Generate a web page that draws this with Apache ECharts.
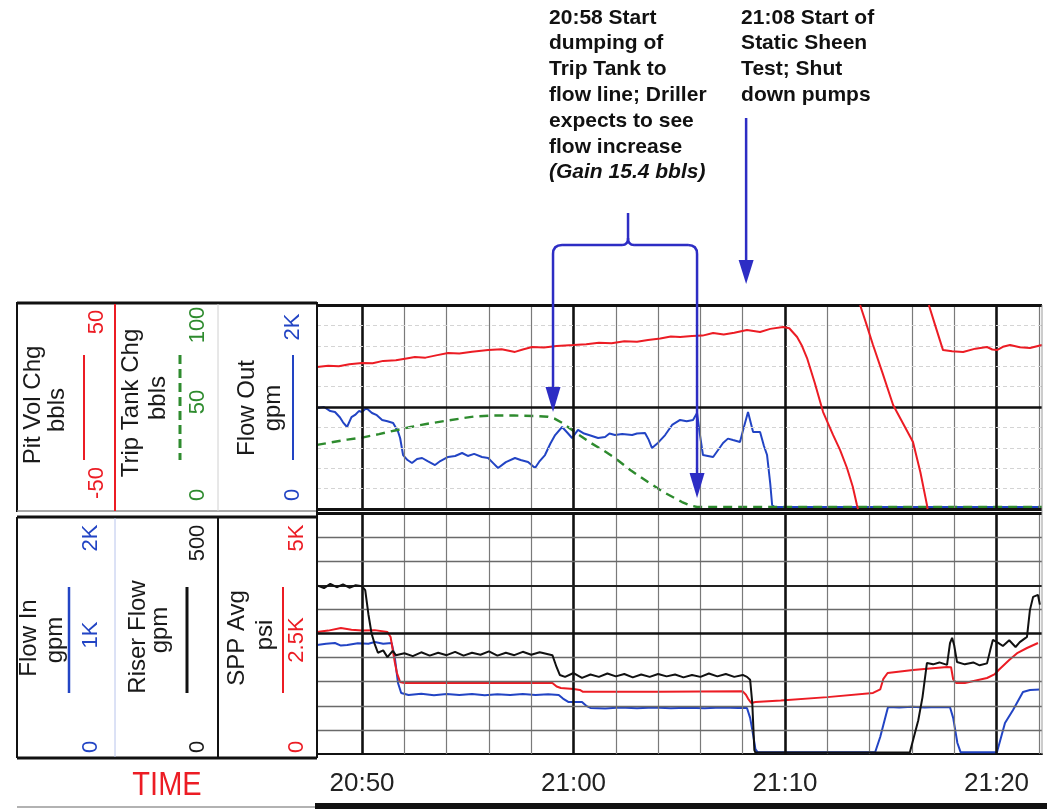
<!DOCTYPE html>
<html>
<head>
<meta charset="utf-8">
<script src="https://cdn.jsdelivr.net/npm/echarts@6.0.0/dist/echarts.min.js"></script>
<style>
html, body { margin: 0; padding: 0; background: #fff; }
#main { width: 1047px; height: 809px; }
</style>
</head>
<body>
<div id="main"></div>
<script>
// time is in minutes after 20:00
var X_MIN = 47.87, X_MAX = 82.15;
var timeTicks = [50, 60, 70, 80];

// top panel
var pitVolChg = [
  [47.87, 19.6], [48.4, 20.2], [48.9, 20.0], [49.4, 21.0], [50.0, 21.6], [50.5, 21.4], [51.0, 22.6],
  [51.6, 22.9], [52.1, 23.8], [52.5, 24.5], [53.0, 24.2], [53.5, 25.3], [54.07, 26.5], [54.6, 26.2],
  [55.2, 27.1], [55.96, 27.9], [56.6, 28.3], [57.23, 27.0], [57.6, 28.2], [58.04, 29.4], [58.6, 29.2],
  [59.2, 29.9], [60.0, 30.4], [60.6, 30.8], [61.2, 31.5], [61.8, 31.3], [62.4, 32.2], [63.0, 32.0],
  [63.52, 32.8], [64.1, 33.6], [64.6, 34.6], [65.04, 34.3], [65.6, 34.8], [66.1, 35.0], [66.6, 36.3],
  [67.1, 35.5], [67.6, 36.4], [68.2, 37.7], [68.82, 36.8], [69.3, 38.3], [69.91, 39.2], [70.2, 38.6],
  [70.57, 34.3], [70.8, 30.0], [71.04, 24.0], [71.4, 12.0], [71.8, -2.5], [72.27, -13.7], [72.6, -21.0],
  [72.93, -29.9], [73.2, -39], [73.4, -48], [73.45, -50], [73.5, null],
  [73.55, 50], [73.85, 40.5], [74.16, 30.4], [74.6, 17.0], [75.11, 1.0], [75.6, -8.5], [76.05, -17.2],
  [76.4, -32], [76.71, -48], [76.74, -50], [76.76, null],
  [76.8, 50], [77.1, 40], [77.47, 27.9], [77.9, 27.3], [78.42, 27.0], [79.0, 28.6], [79.55, 29.4],
  [79.8, 28.2], [80.02, 27.9], [80.3, 29.5], [80.64, 30.4], [81.1, 29.3], [81.58, 28.9], [82.15, 30.4]
];
var tripTankChg = [
  [47.87, 31.4], [48.5, 32.6], [49.3, 34.0], [50.0, 35.0], [50.8, 36.7], [51.56, 38.5], [52.3, 40.2],
  [53.1, 41.8], [54.07, 43.4], [54.8, 44.6], [55.34, 45.4], [56.2, 45.8], [57.2, 45.8], [58.2, 45.6],
  [58.79, 45.2], [59.1, 44.3], [59.46, 42.2], [60.07, 37.7], [60.8, 32.5], [61.4, 28.8], [61.96, 25.0],
  [62.7, 19.0], [63.52, 13.2], [64.3, 8.0], [65.13, 3.4], [65.5, 1.8], [65.84, 1.0], [82.15, 1.0]
];
var flowOut = [
  [47.87, 990], [48.2, 1000], [48.5, 960], [48.72, 951], [48.95, 900], [49.1, 850], [49.29, 804],
  [49.5, 900], [49.67, 922], [49.85, 960], [50.0, 951], [50.2, 990], [50.47, 941], [50.7, 920],
  [50.95, 873], [51.2, 860], [51.47, 843], [51.7, 760], [51.8, 696], [51.94, 529], [52.15, 480],
  [52.36, 451], [52.6, 490], [52.84, 500], [53.1, 470], [53.45, 431], [53.7, 470], [54.07, 510],
  [54.4, 520], [54.73, 549], [55.0, 520], [55.3, 540], [55.67, 510], [55.96, 500], [56.2, 450],
  [56.43, 402], [56.8, 460], [57.23, 500], [57.5, 480], [57.85, 461], [58.18, 402], [58.4, 470],
  [58.65, 529], [58.9, 640], [59.13, 725], [59.46, 804], [59.7, 750], [59.93, 696], [60.21, 775],
  [60.5, 740], [60.8, 720], [61.16, 696], [61.49, 706], [61.7, 740], [61.96, 725], [62.3, 735],
  [62.77, 725], [63.0, 740], [63.38, 745], [63.55, 680], [63.71, 598], [64.0, 650], [64.33, 725],
  [64.66, 824], [65.04, 873], [65.35, 860], [65.65, 873], [65.84, 941], [65.98, 725], [66.12, 529],
  [66.35, 520], [66.6, 510], [67.07, 647], [67.3, 690], [67.54, 676], [67.87, 657], [68.05, 800],
  [68.25, 951], [68.49, 755], [68.82, 755], [69.0, 620], [69.15, 529], [69.3, 250], [69.39, 39],
  [69.5, 20], [82.15, 20]
];

// bottom panel
var flowIn = [
  [47.87, 905], [48.3, 915], [48.72, 921], [49.0, 900], [49.3, 905], [49.8, 920], [50.3, 915],
  [50.6, 929], [51.0, 915], [51.4, 921], [51.55, 800], [51.7, 589], [51.85, 506], [52.2, 490],
  [52.8, 500], [53.4, 488], [54.0, 498], [54.6, 490], [55.2, 497], [55.8, 488], [56.4, 496],
  [57.0, 489], [57.6, 498], [58.2, 490], [58.8, 495], [59.3, 490], [59.5, 460], [59.75, 432],
  [60.4, 432], [60.6, 400], [60.8, 382], [61.5, 378], [62.2, 385], [63.0, 380], [63.8, 386],
  [64.6, 379], [65.4, 384], [66.2, 380], [67.0, 385], [67.8, 381], [68.2, 382], [68.35, 300],
  [68.5, 150], [68.6, 40], [68.7, 15], [74.26, 15], [74.5, 141], [74.87, 390], [75.4, 385],
  [76.0, 392], [76.6, 386], [77.2, 391], [77.8, 388], [77.95, 300], [78.15, 91], [78.3, 15],
  [80.02, 15], [80.4, 257], [80.78, 365], [81.25, 515], [81.58, 531], [82.05, 535]
];
var riserFlow = [
  [47.87, 350], [48.2, 344], [48.5, 353], [48.8, 346], [49.1, 352], [49.4, 345], [49.7, 350],
  [50.0, 348], [50.15, 340], [50.3, 290], [50.45, 250], [50.6, 228], [50.75, 210], [51.0, 215],
  [51.2, 201], [51.45, 214], [51.6, 205], [52.0, 209], [52.4, 203], [52.8, 211], [53.2, 204],
  [53.6, 210], [54.0, 205], [54.4, 212], [54.8, 204], [55.2, 210], [55.6, 206], [56.0, 213],
  [56.4, 204], [56.8, 210], [57.2, 205], [57.6, 212], [58.0, 206], [58.4, 211], [58.8, 207],
  [59.0, 205], [59.2, 180], [59.35, 164], [59.6, 160], [60.0, 168], [60.4, 158], [60.8, 165],
  [61.2, 160], [61.6, 167], [62.0, 161], [62.4, 166], [62.8, 159], [63.2, 165], [63.6, 160],
  [64.0, 166], [64.4, 161], [64.8, 165], [65.2, 159], [65.6, 164], [66.0, 160], [66.4, 167],
  [66.8, 161], [67.2, 166], [67.6, 160], [68.0, 164], [68.2, 160], [68.35, 154], [68.45, 106],
  [68.55, 8], [68.6, 3], [75.9, 3], [76.3, 70], [76.5, 118], [76.71, 189], [77.0, 186],
  [77.3, 190], [77.66, 185], [77.8, 230], [77.9, 241], [78.0, 225], [78.13, 191], [78.5, 186],
  [78.9, 190], [79.2, 184], [79.55, 188], [79.7, 215], [79.83, 237], [80.1, 230], [80.3, 224],
  [80.6, 236], [80.9, 222], [81.1, 232], [81.44, 243], [81.58, 299], [81.73, 326], [81.96, 330],
  [82.05, 310]
];
var sppAvg = [
  [47.87, 2531], [48.4, 2560], [49.0, 2614], [49.5, 2580], [50.0, 2560], [50.6, 2570], [51.2, 2531],
  [51.35, 2427], [51.55, 1900], [51.65, 1680], [51.8, 1494], [52.0, 1473], [55.0, 1475], [59.0, 1473],
  [59.2, 1400], [59.4, 1369], [60.0, 1350], [60.3, 1328], [60.45, 1290], [64.0, 1290], [68.0, 1300],
  [68.15, 1230], [68.25, 1150], [68.4, 1058], [68.6, 1079], [69.8, 1110], [72.0, 1180], [74.16, 1266],
  [74.5, 1340], [74.65, 1560], [74.85, 1680], [76.05, 1743], [77.66, 1805], [77.85, 1800],
  [77.95, 1550], [78.1, 1473], [78.5, 1473], [79.55, 1577], [79.9, 1650], [80.1, 1743], [80.6, 1950],
  [81.0, 2100], [81.44, 2199], [81.96, 2303]
];

// annotation arrows (minutes after 20:00)
var dumpStart = 59.03, dumpEnd = 65.84, pumpsOff = 68.16;

var RED = '#ec1c24', GREEN = '#2e8b2e', BLUE = '#2244c4', BLACK = '#111', ARROW = '#2d2dc4';
var FONT = '"Liberation Sans", Arial, sans-serif';

function fmtTime(v) {
  var h = 20 + Math.floor(v / 60), m = Math.round(v % 60);
  return h + ':' + (m < 10 ? '0' : '') + m;
}

// vertical grid lines every 2 minutes, heavy every 10
var vLines = [];
for (var t = 50; t <= 82; t += 2) {
  vLines.push({ xAxis: t, lineStyle: t % 10 === 0 ? { color: BLACK, width: 2.6, type: 'solid' } : { color: '#7a7a7a', width: 1.2, type: 'solid' } });
}
var topLines = vLines.slice();
for (var k = 0; k <= 100; k += 10) {
  if (k === 0 || k === 100) topLines.push({ yAxis: k, lineStyle: { color: BLACK, width: 3, type: 'solid' } });
  else if (k === 50) topLines.push({ yAxis: k, lineStyle: { color: BLACK, width: 2.6, type: 'solid' } });
  else topLines.push({ yAxis: k, lineStyle: { color: '#d4d4d4', width: 1, type: [4, 3] } });
}
var botLines = vLines.slice();
for (var j = 50; j <= 500; j += 50) {
  if (j === 500) botLines.push({ yAxis: j, lineStyle: { color: BLACK, width: 3, type: 'solid' } });
  else if (j === 250) botLines.push({ yAxis: j, lineStyle: { color: BLACK, width: 2.6, type: 'solid' } });
  else if (j === 350) botLines.push({ yAxis: j, lineStyle: { color: '#222', width: 1.8, type: 'solid' } });
  else botLines.push({ yAxis: j, lineStyle: { color: '#6a6a6a', width: 1.3, type: 'solid' } });
}

var chart = echarts.init(document.getElementById('main'), null, { renderer: 'canvas' });

var option = {
  animation: false,
  backgroundColor: '#fff',
  grid: [
    { left: 317, right: 5, top: 305, height: 204 },
    { left: 317, right: 5, top: 513, height: 241 }
  ],
  xAxis: [
    { type: 'value', gridIndex: 0, min: X_MIN, max: X_MAX, axisLine: { show: false }, axisTick: { show: false }, axisLabel: { show: false }, splitLine: { show: false } },
    { type: 'value', gridIndex: 1, min: X_MIN, max: X_MAX,
      axisLine: { show: true, lineStyle: { color: BLACK, width: 2 } },
      axisTick: { show: false }, splitLine: { show: false },
      axisLabel: { customValues: timeTicks, formatter: fmtTime, fontSize: 26, color: '#222', fontFamily: FONT, margin: 17 } }
  ],
  yAxis: [
    { type: 'value', gridIndex: 0, min: -50, max: 50, show: false },
    { type: 'value', gridIndex: 0, min: 0, max: 100, show: false },
    { type: 'value', gridIndex: 0, min: 0, max: 2000, show: false },
    { type: 'value', gridIndex: 1, min: 0, max: 2000, show: false },
    { type: 'value', gridIndex: 1, min: 0, max: 500, show: false },
    { type: 'value', gridIndex: 1, min: 0, max: 5000, show: false }
  ],
  series: [
    { type: 'line', xAxisIndex: 0, yAxisIndex: 1, data: [], silent: true, z: 1,
      markLine: { symbol: ['none', 'none'], silent: true, label: { show: false }, animation: false, data: topLines } },
    { type: 'line', xAxisIndex: 1, yAxisIndex: 4, data: [], silent: true, z: 1,
      markLine: { symbol: ['none', 'none'], silent: true, label: { show: false }, animation: false, data: botLines } },
    { name: 'Flow Out', type: 'line', xAxisIndex: 0, yAxisIndex: 2, data: flowOut, showSymbol: false, z: 3,
      lineStyle: { color: BLUE, width: 2 } },
    { name: 'Trip Tank Chg', type: 'line', xAxisIndex: 0, yAxisIndex: 1, data: tripTankChg, showSymbol: false, z: 4,
      lineStyle: { color: GREEN, width: 2.4, type: [9, 6] } },
    { name: 'Pit Vol Chg', type: 'line', xAxisIndex: 0, yAxisIndex: 0, data: pitVolChg, showSymbol: false, z: 5,
      connectNulls: false, lineStyle: { color: RED, width: 2 } },
    { name: 'Flow In', type: 'line', xAxisIndex: 1, yAxisIndex: 3, data: flowIn, showSymbol: false, z: 3,
      lineStyle: { color: BLUE, width: 2 } },
    { name: 'SPP Avg', type: 'line', xAxisIndex: 1, yAxisIndex: 5, data: sppAvg, showSymbol: false, z: 4,
      lineStyle: { color: RED, width: 2 } },
    { name: 'Riser Flow', type: 'line', xAxisIndex: 1, yAxisIndex: 4, data: riserFlow, showSymbol: false, z: 5,
      lineStyle: { color: BLACK, width: 2 } }
  ]
};
chart.setOption(option);

// ---- legend panel and annotations drawn as graphics ----
function vtext(txt, x, y, color, size) {
  return { type: 'text', x: x, y: y, rotation: Math.PI / 2, z: 10,
    style: { text: txt, fill: color, font: size + 'px ' + FONT, align: 'center', verticalAlign: 'middle' } };
}
function seg(x1, y1, x2, y2, color, w, dash) {
  return { type: 'line', z: 10, shape: { x1: x1, y1: y1, x2: x2, y2: y2 },
    style: { stroke: color, lineWidth: w, lineDash: dash || null } };
}
function curve(x1, y1, cx, cy, x2, y2) {
  return { type: 'bezierCurve', z: 20, shape: { x1: x1, y1: y1, cpx1: cx, cpy1: cy, x2: x2, y2: y2 },
    style: { stroke: ARROW, lineWidth: 2.5, fill: null } };
}
function head(x, yTip, len, half) {
  return { type: 'polygon', z: 20, shape: { points: [[x - half, yTip - len], [x + half, yTip - len], [x, yTip]] },
    style: { fill: ARROW } };
}
function block(lines, x, y) {
  return { type: 'text', x: x, y: y, z: 20,
    style: { text: lines, rich: { i: { fontStyle: 'italic', fontWeight: 'bold', fontSize: 21, fontFamily: FONT, fill: '#111', lineHeight: 25.8 } },
      font: 'bold 21px ' + FONT, fill: '#111', lineHeight: 25.8, align: 'left', verticalAlign: 'top' } };
}

var g = [];
// legend frame
g.push(seg(17, 303, 317, 303, BLACK, 3));
g.push(seg(17, 302, 17, 512, BLACK, 2));
g.push(seg(17, 511, 317, 511, '#8a8a8a', 1.5));
g.push(seg(17, 517, 317, 517, BLACK, 3));
g.push(seg(17, 517, 17, 758, BLACK, 2));
g.push(seg(17, 758, 317, 758, BLACK, 3));
g.push(seg(17, 807, 317, 807, '#999', 1.5));
g.push(seg(317, 302, 317, 758, BLACK, 2));
g.push(seg(1042, 305, 1042, 754, '#999', 1));
g.push(seg(115, 304, 115, 511, RED, 2));
g.push(seg(218, 304, 218, 511, '#d0d0d0', 1));
g.push(seg(115, 518, 115, 757, '#b8c4ec', 1));
g.push(seg(218, 518, 218, 757, BLACK, 2));
g.push({ type: 'rect', z: 10, shape: { x: 315, y: 803, width: 732, height: 6 }, style: { fill: BLACK } });

// top legend
g.push(vtext('Pit Vol Chg', 33, 405, '#1a1a1a', 24));
g.push(vtext('bbls', 57, 410, '#1a1a1a', 24));
g.push(seg(84, 355, 84, 460, RED, 2));
g.push(vtext('50', 97, 322, RED, 22));
g.push(vtext('-50', 97, 483, RED, 22));
g.push(vtext('Trip Tank Chg', 131, 403, '#1a1a1a', 24));
g.push(vtext('bbls', 158, 398, '#1a1a1a', 24));
g.push(seg(180, 355, 180, 460, GREEN, 3, [9, 5]));
g.push(vtext('100', 198, 325, GREEN, 22));
g.push(vtext('50', 198, 402, GREEN, 22));
g.push(vtext('0', 198, 495, GREEN, 22));
g.push(vtext('Flow Out', 247, 408, '#1a1a1a', 24));
g.push(vtext('gpm', 273, 408, '#1a1a1a', 24));
g.push(seg(293, 355, 293, 460, BLUE, 2));
g.push(vtext('2K', 293, 327, BLUE, 22));
g.push(vtext('0', 293, 495, BLUE, 22));

// bottom legend
g.push(vtext('Flow In', 29, 638, '#1a1a1a', 24));
g.push(vtext('gpm', 55, 640, '#1a1a1a', 24));
g.push(seg(69, 587, 69, 693, BLUE, 2.5));
g.push(vtext('2K', 91, 538, BLUE, 22));
g.push(vtext('1K', 91, 635, BLUE, 22));
g.push(vtext('0', 91, 747, BLUE, 22));
g.push(vtext('Riser Flow', 138, 637, '#1a1a1a', 24));
g.push(vtext('gpm', 160, 630, '#1a1a1a', 24));
g.push(seg(187, 587, 187, 693, BLACK, 3));
g.push(vtext('500', 198, 543, '#1a1a1a', 22));
g.push(vtext('0', 198, 747, '#1a1a1a', 22));
g.push(vtext('SPP Avg', 237, 638, '#1a1a1a', 24));
g.push(vtext('psi', 265, 635, '#1a1a1a', 24));
g.push(seg(283, 587, 283, 693, RED, 2));
g.push(vtext('5K', 297, 538, RED, 22));
g.push(vtext('2.5K', 297, 640, RED, 22));
g.push(vtext('0', 297, 747, RED, 22));
g.push({ type: 'text', x: 167, y: 786, z: 10, scaleY: 1.15,
  style: { text: 'TIME', fill: RED, font: '29px ' + FONT, align: 'center', verticalAlign: 'middle' } });

// annotations
var x1 = chart.convertToPixel({ xAxisIndex: 0 }, dumpStart);
var x2 = chart.convertToPixel({ xAxisIndex: 0 }, dumpEnd);
var x3 = chart.convertToPixel({ xAxisIndex: 0 }, pumpsOff);
var xc = (x1 + x2) / 2 + 3;
var r = 9, yb = 245;
// brace
g.push({ type: 'polyline', z: 20, shape: { points: [[x1, 390], [x1, yb + r]] }, style: { stroke: ARROW, lineWidth: 2.5, fill: null } });
g.push(curve(x1, yb + r, x1, yb, x1 + r, yb));
g.push({ type: 'polyline', z: 20, shape: { points: [[x1 + r, yb], [xc - 6, yb]] }, style: { stroke: ARROW, lineWidth: 2.5, fill: null } });
g.push(curve(xc - 6, yb, xc, yb, xc, yb - 7));
g.push(curve(xc, yb - 7, xc, yb, xc + 6, yb));
g.push({ type: 'polyline', z: 20, shape: { points: [[xc, yb - 7], [xc, 213]] }, style: { stroke: ARROW, lineWidth: 2.5, fill: null } });
g.push({ type: 'polyline', z: 20, shape: { points: [[xc + 6, yb], [x2 - r, yb]] }, style: { stroke: ARROW, lineWidth: 2.5, fill: null } });
g.push(curve(x2 - r, yb, x2, yb, x2, yb + r));
g.push({ type: 'polyline', z: 20, shape: { points: [[x2, yb + r], [x2, 476]] }, style: { stroke: ARROW, lineWidth: 2.5, fill: null } });
g.push(head(x1, 412, 25, 7.5));
g.push(head(x2, 498, 25, 7.5));
g.push(seg(x3, 118, x3, 262, ARROW, 2.5));
g.push(head(x3, 284, 24, 7.5));

g.push(block('20:58 Start\ndumping of\nTrip Tank to\nflow line; Driller\nexpects to see\nflow increase\n{i|(Gain 15.4 bbls)}', x1 - 4, 5));
g.push(block('21:08 Start of\nStatic Sheen\nTest; Shut\ndown pumps', x3 - 5, 5));

chart.setOption({ graphic: g });
</script>
</body>
</html>
